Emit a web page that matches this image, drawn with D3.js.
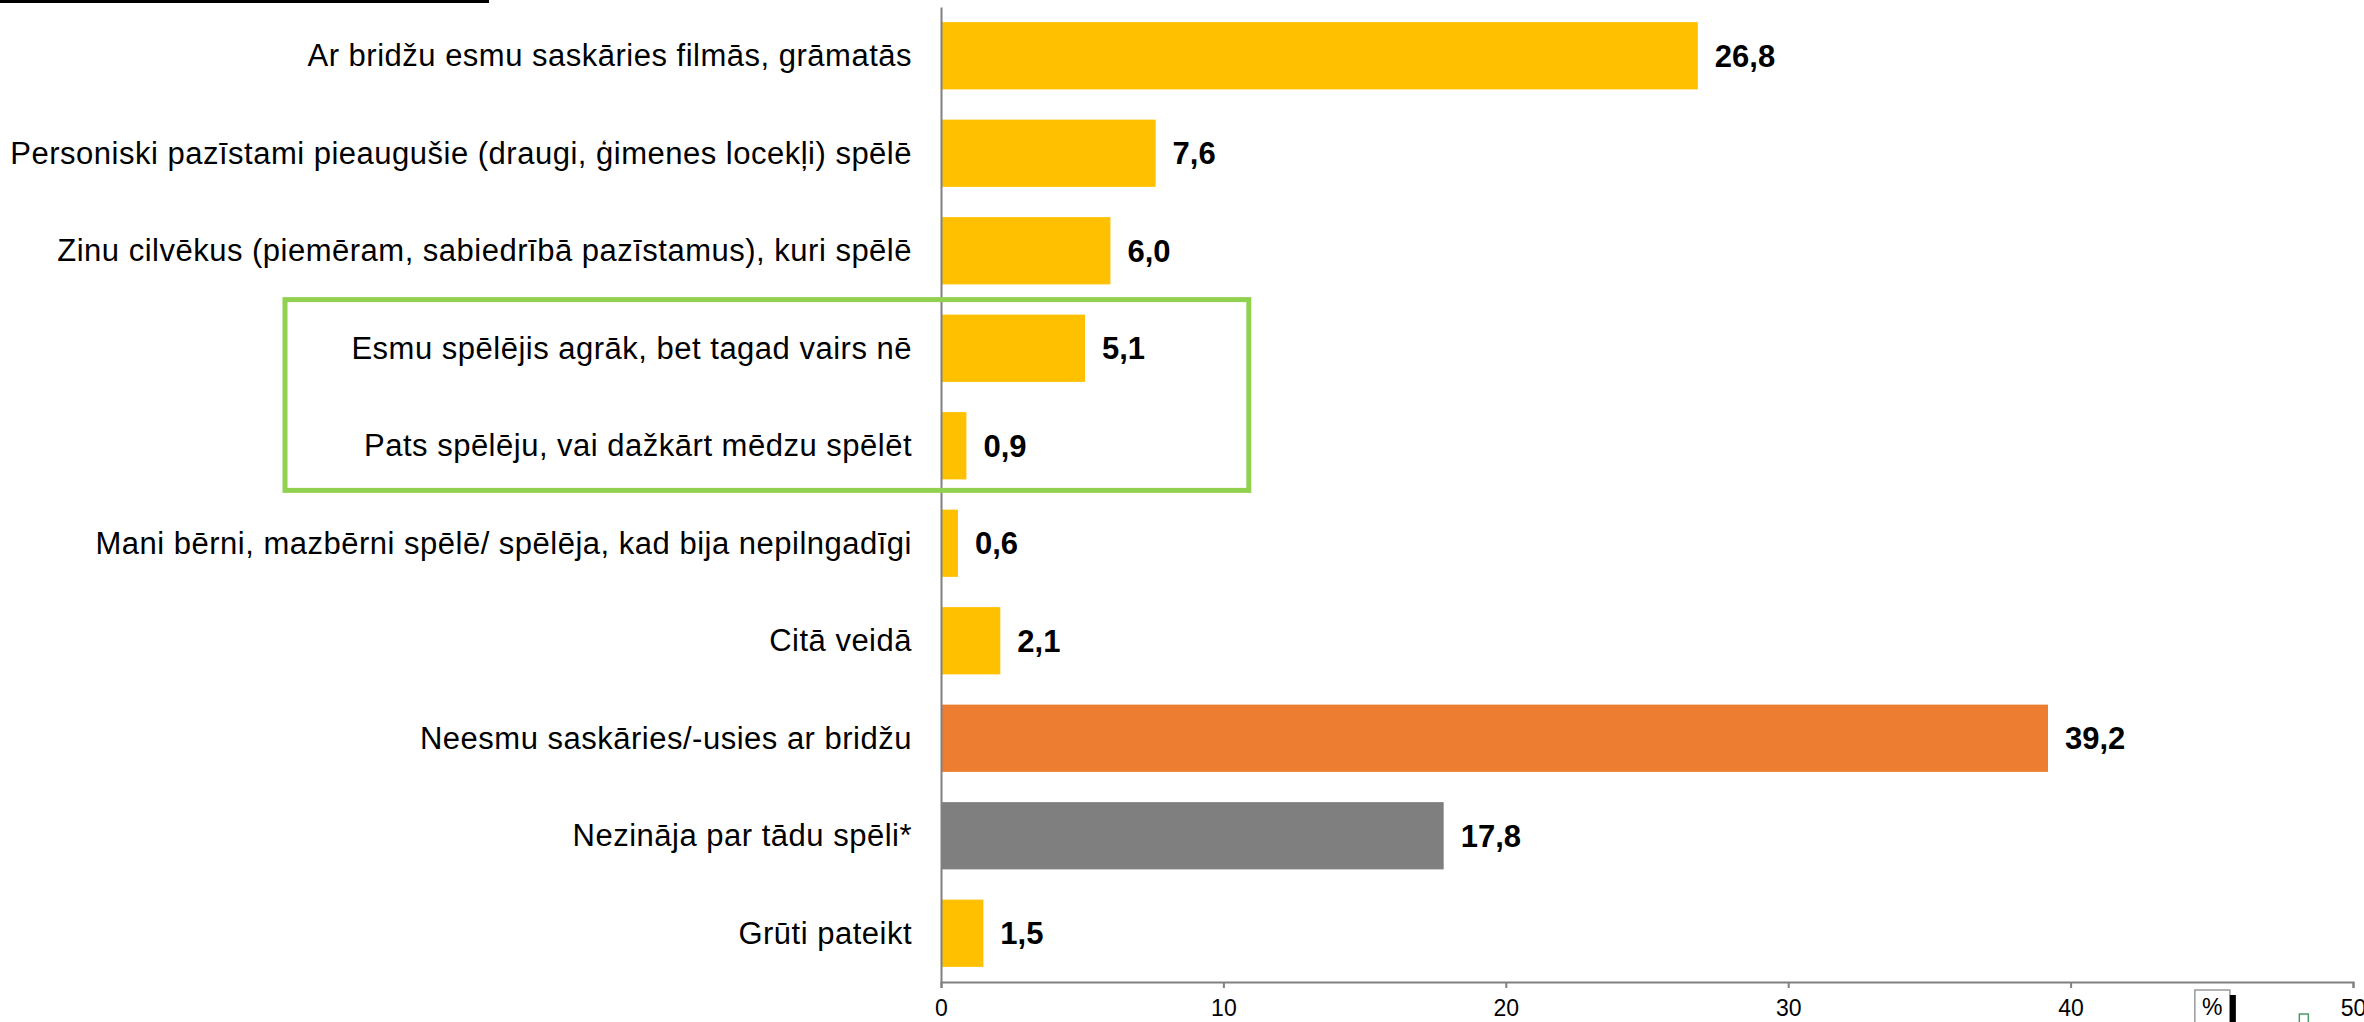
<!DOCTYPE html>
<html>
<head>
<meta charset="utf-8">
<script src="https://cdn.jsdelivr.net/npm/d3@7"></script>
<style>
  body { margin: 0; background: #fff; }
  svg { display: block; font-family: "Liberation Sans", Arial, sans-serif; }
</style>
</head>
<body>
<div class="container"></div>
<script>
const categories = [
  "Ar bridžu esmu saskāries filmās, grāmatās",
  "Personiski pazīstami pieaugušie (draugi, ģimenes locekļi) spēlē",
  "Zinu cilvēkus (piemēram, sabiedrībā pazīstamus), kuri spēlē",
  "Esmu spēlējis agrāk, bet tagad vairs nē",
  "Pats spēlēju, vai dažkārt mēdzu spēlēt",
  "Mani bērni, mazbērni spēlē/ spēlēja, kad bija nepilngadīgi",
  "Citā veidā",
  "Neesmu saskāries/-usies ar bridžu",
  "Nezināja par tādu spēli*",
  "Grūti pateikt"
];
const values = [26.8, 7.6, 6.0, 5.1, 0.9, 0.6, 2.1, 39.2, 17.8, 1.5];
const groups = ["yes", "yes", "yes", "yes", "yes", "yes", "yes", "no", "unknown", "yes"];
const xTicks = [0, 10, 20, 30, 40, 50];
const highlighted = ["Esmu spēlējis agrāk, bet tagad vairs nē", "Pats spēlēju, vai dažkārt mēdzu spēlēt"];

const width = 2364, height = 1022;
const colors = { yes: "#FFC000", no: "#ED7D31", unknown: "#7F7F7F" };
const fmt = v => v.toFixed(1).replace(".", ",");

const svg = d3.select(".container").append("svg")
  .attr("width", width)
  .attr("height", height);

const xScale = d3.scaleLinear().domain([0, 50]).range([941, 2353]);
const yScale = d3.scaleBand()
  .domain(categories)
  .range([7, 982])
  .paddingInner(0.31)
  .paddingOuter(0.155);

// cropped title underline at the top
svg.append("rect")
  .attr("x", 0).attr("y", 0)
  .attr("width", 489).attr("height", 3)
  .attr("fill", "#000");

// bars
svg.append("g")
  .selectAll("rect")
  .data(values)
  .join("rect")
  .attr("x", xScale(0))
  .attr("y", (d, i) => yScale(categories[i]))
  .attr("width", d => xScale(d) - xScale(0))
  .attr("height", yScale.bandwidth())
  .attr("fill", (d, i) => colors[groups[i]]);

// value labels
svg.append("g")
  .selectAll("text")
  .data(values)
  .join("text")
  .attr("x", d => xScale(d) + 17)
  .attr("y", (d, i) => yScale(categories[i]) + yScale.bandwidth() / 2)
  .attr("dy", "0.36em")
  .attr("font-size", 31)
  .attr("font-weight", "bold")
  .attr("fill", "#000")
  .text(fmt);

// x axis
const xAxis = d3.axisBottom(xScale).tickValues(xTicks).tickSize(6).tickPadding(12);
const gx = svg.append("g")
  .attr("transform", `translate(0, ${yScale.range()[1]})`)
  .call(xAxis);
gx.select(".domain").attr("stroke", "#808080").attr("stroke-width", 2);
gx.selectAll(".tick line").attr("stroke", "#808080").attr("stroke-width", 2);
gx.selectAll(".tick text")
  .attr("font-size", 23)
  .attr("font-family", "Liberation Sans, Arial, sans-serif")
  .attr("fill", "#000");

// y axis (line only, labels to the left)
const yAxis = d3.axisLeft(yScale).tickSize(0).tickPadding(29);
const gy = svg.append("g")
  .attr("transform", `translate(${xScale(0)}, 0)`)
  .call(yAxis);
gy.select(".domain").attr("stroke", "#808080").attr("stroke-width", 2);
gy.selectAll(".tick text")
  .attr("font-size", 31)
  .attr("letter-spacing", "0.5px")
  .attr("font-family", "Liberation Sans, Arial, sans-serif")
  .attr("fill", "#000")
  .attr("dy", "0.34em");

// green highlight box
const boxTop = yScale(highlighted[0]) - 15;
const boxBottom = yScale(highlighted[1]) + yScale.bandwidth() + 11;
svg.append("rect")
  .attr("x", xScale(0) - 656)
  .attr("y", boxTop)
  .attr("width", xScale(10.9) - xScale(0) + 656)
  .attr("height", boxBottom - boxTop)
  .attr("fill", "none")
  .attr("stroke", "#92D050")
  .attr("stroke-width", 5);

// "%" unit box
const unit = svg.append("g").attr("transform", `translate(${xScale(44.4)}, 990)`);
unit.append("rect")
  .attr("x", 0).attr("y", 0)
  .attr("width", 35).attr("height", 40)
  .attr("fill", "#fff")
  .attr("stroke", "#999")
  .attr("stroke-width", 1.5);
unit.append("rect")
  .attr("x", 35).attr("y", 5)
  .attr("width", 6).attr("height", 40)
  .attr("fill", "#000");
unit.append("text")
  .attr("x", 17.5).attr("y", 25)
  .attr("text-anchor", "middle")
  .attr("font-size", 23)
  .text("%");

// small marker near the axis end
svg.append("rect")
  .attr("x", xScale(48.1)).attr("y", 1014)
  .attr("width", 9).attr("height", 14)
  .attr("fill", "#fff")
  .attr("stroke", "#4a9a6a")
  .attr("stroke-width", 1.5);
</script>
</body>
</html>
